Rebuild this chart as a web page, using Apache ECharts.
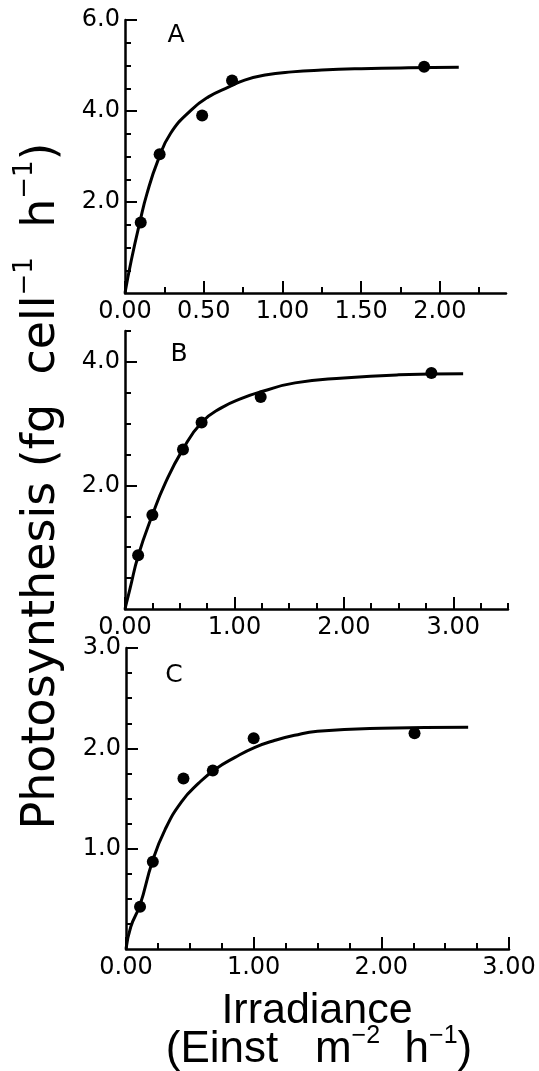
<!DOCTYPE html>
<html>
<head>
<meta charset="utf-8">
<script src="https://cdn.jsdelivr.net/npm/echarts@6/dist/echarts.min.js"></script>
<style>
  html, body { margin: 0; padding: 0; background: #fff; }
  #chart { width: 539px; height: 1071px; }
</style>
</head>
<body>
<div id="chart"></div>
<script>
// panel A
const aPointX = [0.10, 0.22, 0.49, 0.68, 1.90];
const aPointY = [1.55, 3.05, 3.90, 4.67, 4.97];
const aCurveX = [0, 0.04, 0.095, 0.14, 0.21, 0.29, 0.42, 0.53, 0.66, 0.76, 0.89, 1.06, 1.25, 1.5, 1.8, 2.12];
const aCurveY = [0, 0.72, 1.57, 2.19, 2.92, 3.51, 4.02, 4.31, 4.53, 4.68, 4.79, 4.86, 4.90, 4.93, 4.95, 4.96];
const aXMajor = [0, 0.5, 1, 1.5, 2];
const aXLabels = ['0.00', '0.50', '1.00', '1.50', '2.00'];
const aXMinor = [0.25, 0.75, 1.25, 1.75, 2.25];
const aYMajor = [2, 4, 6];
const aYLabels = ['2.0', '4.0', '6.0'];
const aYMinor = [0.5, 1, 1.5, 2.5, 3, 3.5, 4.5, 5, 5.5];

// panel B
const bPointX = [0.12, 0.25, 0.53, 0.70, 1.24, 2.80];
const bPointY = [0.87, 1.52, 2.58, 3.02, 3.43, 3.82];
const bCurveX = [0, 0.046, 0.122, 0.25, 0.366, 0.527, 0.70, 0.884, 1.066, 1.25, 1.554, 2.0, 2.5, 3.09];
const bCurveY = [0, 0.33, 0.87, 1.52, 2.03, 2.58, 3.02, 3.26, 3.41, 3.52, 3.66, 3.74, 3.79, 3.81];
const bXMajor = [0, 1, 2, 3];
const bXLabels = ['0.00', '1.00', '2.00', '3.00'];
const bXMinor = [0.25, 0.5, 0.75, 1.25, 1.5, 1.75, 2.25, 2.5, 2.75, 3.25, 3.5];
const bYMajor = [2, 4];
const bYLabels = ['2.0', '4.0'];
const bYMinor = [0.5, 1, 1.5, 2.5, 3, 3.5, 4.5];

// panel C
const cPointX = [0.11, 0.21, 0.45, 0.68, 1.00, 2.26];
const cPointY = [0.42, 0.87, 1.70, 1.78, 2.10, 2.15];
const cCurveX = [0, 0.037, 0.11, 0.206, 0.306, 0.436, 0.567, 0.697, 0.854, 1.01, 1.168, 1.32, 1.5, 2.0, 2.68];
const cCurveY = [0, 0.22, 0.44, 0.87, 1.19, 1.47, 1.65, 1.79, 1.91, 2.01, 2.08, 2.13, 2.17, 2.20, 2.21];
const cXMajor = [0, 1, 2, 3];
const cXLabels = ['0.00', '1.00', '2.00', '3.00'];
const cXMinor = [0.25, 0.5, 0.75, 1.25, 1.5, 1.75, 2.25, 2.5, 2.75];
const cYMajor = [1, 2, 3];
const cYLabels = ['1.0', '2.0', '3.0'];
const cYMinor = [0.25, 0.5, 0.75, 1.25, 1.5, 1.75, 2.25, 2.5, 2.75];

const panels = [
    { name: 'A', grid: { left: 125, top: 20, width: 381, height: 273 }, xMax: 2.42, yMax: 6,
      px: aPointX, py: aPointY, cx: aCurveX, cy: aCurveY,
      xMajor: aXMajor, xLabels: aXLabels, xMinor: aXMinor, yMajor: aYMajor, yLabels: aYLabels, yMinor: aYMinor,
      letter: [176, 35] },
    { name: 'B', grid: { left: 125, top: 331, width: 383, height: 278 }, xMax: 3.5, yMax: 4.5,
      px: bPointX, py: bPointY, cx: bCurveX, cy: bCurveY,
      xMajor: bXMajor, xLabels: bXLabels, xMinor: bXMinor, yMajor: bYMajor, yLabels: bYLabels, yMinor: bYMinor,
      letter: [179, 354] },
    { name: 'C', grid: { left: 126, top: 648, width: 383, height: 301 }, xMax: 3, yMax: 3,
      px: cPointX, py: cPointY, cx: cCurveX, cy: cCurveY,
      xMajor: cXMajor, xLabels: cXLabels, xMinor: cXMinor, yMajor: cYMajor, yLabels: cYLabels, yMinor: cYMinor,
      letter: [174, 675] }
];

const ink = '#000';
const labelFont = { fontFamily: 'DejaVu Sans', fontSize: 24, color: ink };

function pick(values, labels) {
    return function (v) {
        const i = values.findIndex(function (t) { return Math.abs(t - v) < 1e-6; });
        return i < 0 ? '' : labels[i];
    };
}

const grids = [], xAxes = [], yAxes = [], series = [], graphics = [];

panels.forEach(function (p, i) {
    grids.push(Object.assign({ outerBoundsMode: 'none' }, p.grid));
    // major x axis with labels
    xAxes.push({
        type: 'value', gridIndex: i, min: 0, max: p.xMax, position: 'bottom',
        axisLine: { show: true, onZero: false, lineStyle: { color: ink, width: 2.5 } },
        axisTick: { show: true, inside: true, length: 12, customValues: p.xMajor, lineStyle: { color: ink, width: 2 } },
        axisLabel: Object.assign({ customValues: p.xMajor, margin: 7, formatter: pick(p.xMajor, p.xLabels) }, labelFont),
        splitLine: { show: false }
    });
    // minor x ticks
    xAxes.push({
        type: 'value', gridIndex: i, min: 0, max: p.xMax, position: 'bottom',
        axisLine: { show: false, onZero: false },
        axisTick: { show: true, inside: true, length: 6, customValues: p.xMinor, lineStyle: { color: ink, width: 2 } },
        axisLabel: { show: false },
        splitLine: { show: false }
    });
    yAxes.push({
        type: 'value', gridIndex: i, min: 0, max: p.yMax, position: 'left',
        axisLine: { show: true, onZero: false, lineStyle: { color: ink, width: 2.5 } },
        axisTick: { show: true, inside: true, length: 12, customValues: p.yMajor, lineStyle: { color: ink, width: 2 } },
        axisLabel: Object.assign({ customValues: p.yMajor, margin: 5, formatter: pick(p.yMajor, p.yLabels) }, labelFont),
        splitLine: { show: false }
    });
    yAxes.push({
        type: 'value', gridIndex: i, min: 0, max: p.yMax, position: 'left',
        axisLine: { show: false, onZero: false },
        axisTick: { show: true, inside: true, length: 6, customValues: p.yMinor, lineStyle: { color: ink, width: 2 } },
        axisLabel: { show: false },
        splitLine: { show: false }
    });
    series.push({
        type: 'line', xAxisIndex: 2 * i, yAxisIndex: 2 * i,
        data: p.cx.map(function (x, k) { return [x, p.cy[k]]; }),
        smooth: 0.5, showSymbol: false, symbol: 'none',
        lineStyle: { color: ink, width: 3 }, silent: true, z: 2
    });
    series.push({
        type: 'scatter', xAxisIndex: 2 * i, yAxisIndex: 2 * i,
        data: p.px.map(function (x, k) { return [x, p.py[k]]; }),
        symbol: 'circle', symbolSize: 12, itemStyle: { color: ink, opacity: 1 }, z: 3
    });
    graphics.push({
        type: 'text', x: p.letter[0], y: p.letter[1],
        style: { text: p.name, fontFamily: 'DejaVu Sans', fontSize: 25, fill: ink, align: 'center', verticalAlign: 'middle' }
    });
});

// axis titles
graphics.push({
    type: 'text', x: 42, y: 486, rotation: Math.PI / 2,
    style: {
        text: '{m|Photosynthesis (fg  cell}{s|−1}{m|  h}{s|−1}{m|)}',
        align: 'center', verticalAlign: 'middle', fill: ink,
        rich: {
            m: { fontFamily: 'DejaVu Sans', fontSize: 46, lineHeight: 60, fill: ink },
            s: { fontFamily: 'DejaVu Sans', fontSize: 26, lineHeight: 60, verticalAlign: 'top', fill: ink }
        }
    }
});
graphics.push({
    type: 'text', x: 317, y: 1011,
    style: { text: 'Irradiance', fontFamily: 'Liberation Sans', fontSize: 43, fill: ink, align: 'center', verticalAlign: 'middle' }
});
graphics.push({
    type: 'text', x: 319, y: 1050,
    style: {
        text: '{m|(Einst   m}{s|−2}{m|  h}{s|−1}{m|)}',
        align: 'center', verticalAlign: 'middle', fill: ink,
        rich: {
            m: { fontFamily: 'Liberation Sans', fontSize: 44, lineHeight: 52, fill: ink },
            s: { fontFamily: 'Liberation Sans', fontSize: 25, lineHeight: 52, verticalAlign: 'top', fill: ink }
        }
    }
});

const chart = echarts.init(document.getElementById('chart'));
chart.setOption({
    animation: false,
    backgroundColor: '#fff',
    grid: grids,
    xAxis: xAxes,
    yAxis: yAxes,
    series: series,
    graphic: graphics
});
window.addEventListener('resize', function () {
    chart.resize();
});
</script>
</body>
</html>
